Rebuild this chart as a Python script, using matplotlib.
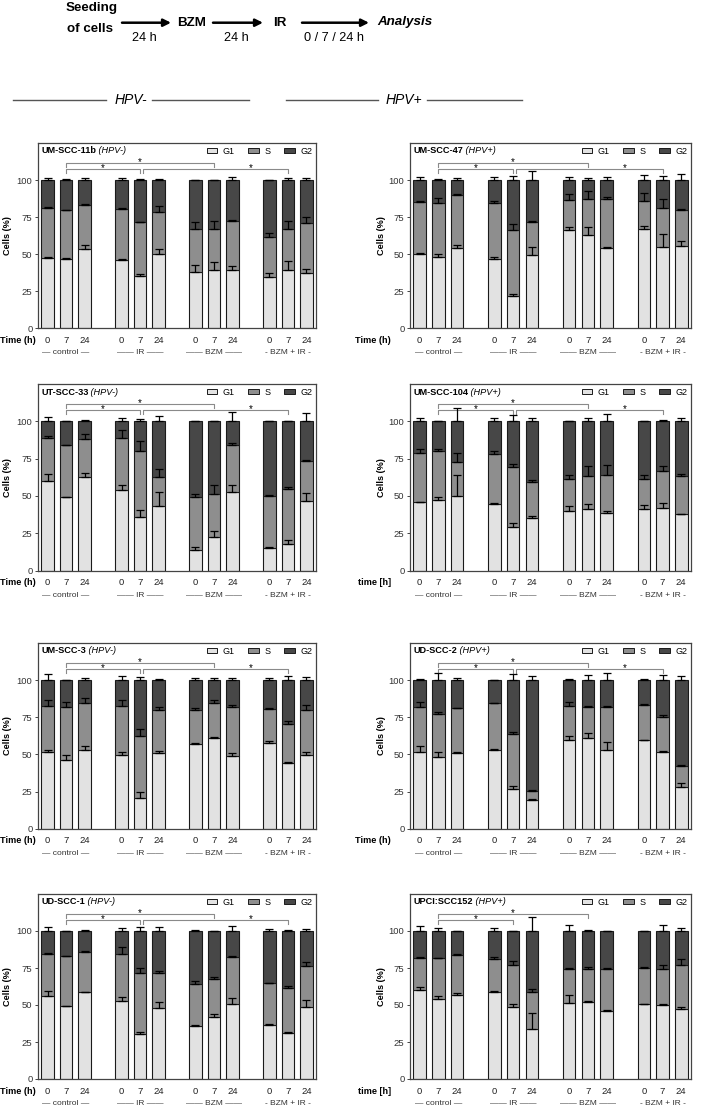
import matplotlib
matplotlib.use('Agg')
import matplotlib.pyplot as plt
import numpy as np
from matplotlib.transforms import blended_transform_factory
from matplotlib.patches import Patch

plt.rcParams['font.family'] = ['Liberation Sans', 'DejaVu Sans']

# ---------------- data ----------------
groups = ['— control —', '—— IR ——', '—— BZM ——', '- BZM + IR -']
times = ['0', '7', '24']
phases = ['G1', 'S', 'G2']

# UM-SCC-11b (HPV-)
um11b_G1 = [47.3, 46.8, 53.8, 46.4, 35.6, 50.0, 38.3, 39.2, 39.2, 34.7, 39.0, 37.4]
um11b_S = [34.0, 32.7, 29.1, 34.2, 35.8, 28.4, 28.8, 27.5, 33.3, 27.0, 28.3, 33.3]
um11b_G1_err = [1.1, 0.5, 2.3, 0.5, 0.7, 3.4, 4.7, 5.2, 2.5, 2.3, 6.1, 2.9]
um11b_S_err = [0.7, 0.5, 0.7, 0.7, 0.5, 3.8, 4.5, 5.4, 0.5, 2.9, 5.2, 4.1]
um11b_G2_err = [1.1, 0.7, 1.6, 1.1, 0.5, 0.5, 0.3, 0.3, 2.3, 0.3, 1.1, 1.1]

# UM-SCC-47 (HPV+)
um47_G1 = [49.8, 48.0, 54.3, 46.8, 21.5, 49.5, 66.0, 63.0, 54.3, 67.0, 55.0, 55.5]
um47_S = [35.3, 36.2, 35.3, 37.7, 45.0, 22.0, 20.3, 24.0, 33.1, 18.8, 25.9, 24.3]
um47_G1_err = [0.9, 2.3, 1.6, 1.4, 1.4, 5.4, 2.5, 5.0, 0.3, 2.0, 8.7, 3.6]
um47_S_err = [1.1, 3.8, 0.7, 1.4, 3.8, 0.7, 4.5, 5.6, 1.1, 5.6, 6.5, 1.0]
um47_G2_err = [2.0, 0.9, 1.4, 1.8, 2.5, 6.1, 2.2, 1.4, 1.8, 3.2, 3.0, 4.0]

# UT-SCC-33 (HPV-)
ut33_G1 = [59.8, 49.1, 62.7, 53.8, 35.7, 43.1, 13.8, 22.3, 52.5, 15.4, 18.1, 46.4]
ut33_S = [29.3, 34.8, 25.2, 34.8, 44.7, 19.4, 35.8, 29.3, 31.9, 34.4, 36.4, 26.8]
ut33_G1_err = [4.7, 0.2, 2.7, 3.3, 4.7, 9.8, 2.2, 4.0, 5.1, 0.7, 2.7, 5.4]
ut33_S_err = [1.3, 0.5, 3.8, 5.8, 6.7, 5.6, 2.0, 5.6, 1.3, 0.7, 1.6, 0.7]
ut33_G2_err = [2.7, 0.4, 0.7, 2.0, 1.6, 3.8, 0.2, 0.3, 6.3, 0.2, 0.4, 5.8]

# UM-SCC-104 (HPV+)
um104_G1 = [45.8, 47.1, 49.8, 44.6, 29.0, 35.5, 40.2, 41.3, 38.6, 41.3, 42.2, 37.9]
um104_S = [33.2, 33.0, 23.2, 33.5, 40.6, 24.1, 21.4, 22.3, 25.7, 19.9, 24.3, 25.7]
um104_G1_err = [0.4, 2.0, 14.3, 0.9, 2.7, 1.3, 2.9, 3.1, 1.6, 2.7, 2.9, 0.3]
um104_S_err = [2.2, 1.3, 5.6, 1.8, 2.0, 1.1, 2.5, 6.3, 6.7, 2.9, 3.6, 1.3]
um104_G2_err = [2.5, 0.4, 8.9, 2.5, 4.5, 2.5, 0.2, 2.5, 4.9, 0.2, 0.7, 2.0]

# UM-SCC-3 (HPV-)
um3_G1 = [51.7, 46.1, 53.3, 49.7, 20.7, 51.2, 57.3, 61.1, 49.2, 58.0, 44.3, 49.9]
um3_S = [31.2, 35.5, 31.0, 33.2, 42.0, 28.6, 22.5, 23.2, 32.4, 22.9, 26.3, 29.9]
um3_G1_err = [1.3, 3.6, 2.7, 1.6, 4.0, 0.9, 0.4, 0.4, 1.8, 1.3, 0.7, 2.0]
um3_S_err = [4.0, 4.0, 3.6, 4.0, 4.5, 2.0, 1.3, 2.0, 1.6, 0.4, 2.2, 3.8]
um3_G2_err = [3.8, 0.2, 1.3, 2.9, 1.8, 0.7, 1.6, 1.6, 1.6, 1.6, 2.9, 1.8]

# UD-SCC-2 (HPV+)
ud2_G1 = [51.9, 48.1, 50.8, 53.2, 26.8, 19.0, 59.5, 61.3, 53.0, 59.5, 51.5, 28.4]
ud2_S = [30.2, 29.1, 30.2, 31.1, 36.7, 6.7, 23.3, 20.8, 28.9, 23.7, 23.4, 13.9]
ud2_G1_err = [3.8, 3.8, 1.1, 0.2, 2.0, 1.3, 3.1, 2.9, 5.1, 0.3, 1.1, 2.2]
ud2_S_err = [2.9, 1.6, 0.3, 0.2, 1.3, 0.3, 2.7, 0.4, 0.4, 0.7, 1.8, 0.3]
ud2_G2_err = [0.9, 5.1, 1.6, 0.3, 3.8, 2.5, 0.9, 3.4, 4.5, 1.1, 3.4, 2.7]

# UD-SCC-1 (HPV-)
ud1_G1 = [56.1, 49.3, 58.8, 52.7, 30.4, 48.0, 36.0, 42.1, 50.7, 36.7, 31.3, 48.9]
ud1_S = [28.4, 33.6, 27.2, 31.8, 41.2, 23.8, 28.4, 25.5, 31.5, 28.2, 30.4, 27.2]
ud1_G1_err = [3.6, 0.3, 0.3, 2.7, 1.1, 3.8, 0.7, 1.6, 3.8, 0.7, 0.3, 4.3]
ud1_S_err = [0.7, 0.4, 0.3, 5.0, 3.6, 1.1, 1.6, 1.3, 0.7, 0.3, 0.9, 2.9]
ud1_G2_err = [2.7, 0.2, 0.9, 2.0, 2.7, 2.9, 0.7, 0.2, 3.4, 1.4, 0.7, 1.4]

# UPCI:SCC152 (HPV+)
upci_G1 = [60.0, 54.2, 56.9, 58.9, 48.5, 33.7, 51.5, 52.1, 46.1, 50.6, 49.9, 47.0]
upci_S = [21.6, 27.4, 27.1, 22.0, 28.4, 25.0, 23.1, 22.5, 28.5, 24.7, 24.7, 30.3]
upci_G1_err = [2.5, 2.2, 0.9, 0.4, 2.5, 10.8, 5.2, 0.7, 0.4, 0.3, 1.1, 1.6]
upci_S_err = [0.9, 0.3, 0.4, 1.3, 2.7, 2.0, 0.4, 1.1, 0.3, 0.3, 2.2, 3.6]
upci_G2_err = [3.4, 2.0, 0.3, 2.0, 0.2, 9.4, 4.0, 0.4, 0.2, 0.2, 3.8, 2.0]

panels = [
    dict(name='UM-SCC-11b', hpv='(HPV-)', G1=um11b_G1, S=um11b_S, e1=um11b_G1_err, e2=um11b_S_err, e3=um11b_G2_err, tlabel='Time (h)', nbr=3),
    dict(name='UM-SCC-47', hpv='(HPV+)', G1=um47_G1, S=um47_S, e1=um47_G1_err, e2=um47_S_err, e3=um47_G2_err, tlabel='Time (h)', nbr=3),
    dict(name='UT-SCC-33', hpv='(HPV-)', G1=ut33_G1, S=ut33_S, e1=ut33_G1_err, e2=ut33_S_err, e3=ut33_G2_err, tlabel='Time (h)', nbr=3),
    dict(name='UM-SCC-104', hpv='(HPV+)', G1=um104_G1, S=um104_S, e1=um104_G1_err, e2=um104_S_err, e3=um104_G2_err, tlabel='time [h]', nbr=3),
    dict(name='UM-SCC-3', hpv='(HPV-)', G1=um3_G1, S=um3_S, e1=um3_G1_err, e2=um3_S_err, e3=um3_G2_err, tlabel='Time (h)', nbr=3),
    dict(name='UD-SCC-2', hpv='(HPV+)', G1=ud2_G1, S=ud2_S, e1=ud2_G1_err, e2=ud2_S_err, e3=ud2_G2_err, tlabel='Time (h)', nbr=3),
    dict(name='UD-SCC-1', hpv='(HPV-)', G1=ud1_G1, S=ud1_S, e1=ud1_G1_err, e2=ud1_S_err, e3=ud1_G2_err, tlabel='Time (h)', nbr=3),
    dict(name='UPCI:SCC152', hpv='(HPV+)', G1=upci_G1, S=upci_S, e1=upci_G1_err, e2=upci_S_err, e3=upci_G2_err, tlabel='time [h]', nbr=2),
]

# ---------------- style ----------------
W, H = 705, 1109
fig = plt.figure(figsize=(W / 100, H / 100), dpi=100)

C_G1, C_S, C_G2 = '#e2e2e2', '#8e8e8e', '#474747'
EDGE = '#1a1a1a'
BR = '#8a8a8a'

# overlay for header
ov = fig.add_axes([0, 0, 1, 1])
ov.set_xlim(0, W)
ov.set_ylim(H, 0)
ov.axis('off')

hb = dict(fontsize=9.6, fontweight='bold', ha='center', va='center')
ov.text(91.5, 8, 'Seeding', **hb)
ov.text(90, 29, 'of cells', **hb)
ov.text(192, 22.5, 'BZM', **hb)
ov.text(280, 22.5, 'IR', **hb)
ov.text(377, 22, 'Analysis', fontsize=9.6, fontweight='bold', style='italic', ha='left', va='center')
for (x0, x1, lab, lx) in [(122, 171, '24 h', 144), (213, 263, '24 h', 236), (302, 369, '0 / 7 / 24 h', 334)]:
    ov.annotate('', xy=(x1, 22.7), xytext=(x0, 22.7),
                arrowprops=dict(arrowstyle='-|>', lw=1.8, mutation_scale=11, color='black', shrinkA=0, shrinkB=0))
    ov.text(lx, 38, lab, fontsize=9.2, ha='center', va='center')

for (l0, l1, txt, tx, r0, r1) in [(13, 106, 'HPV-', 131, 152, 249), (286, 378, 'HPV+', 403.5, 427, 522)]:
    ov.plot([l0, l1], [99.5, 99.5], color='#555555', lw=1.0)
    ov.plot([r0, r1], [99.5, 99.5], color='#555555', lw=1.0)
    ov.text(tx, 99.5, txt, fontsize=10, style='italic', ha='center', va='center')

pos = np.array([0, 1, 2, 4, 5, 6, 8, 9, 10, 12, 13, 14])
cols = [(38, 316), (410, 691)]
rows = [(143, 328.3), (384, 570.6), (643, 828.7), (894, 1079)]

for i, p in enumerate(panels):
    r, c = divmod(i, 2)
    x0, x1 = cols[c]
    top, bot = rows[r]
    ax = fig.add_axes([x0 / W, 1 - bot / H, (x1 - x0) / W, (bot - top) / H])
    ax.set_xlim(-0.52, 14.52)
    ax.set_ylim(0, 125)
    g1 = np.array(p['G1'])
    s = np.array(p['S'])
    g2 = 100 - g1 - s
    bw = 0.67
    ax.bar(pos, g1, bw, color=C_G1, edgecolor=EDGE, lw=0.8, zorder=2)
    ax.bar(pos, s, bw, bottom=g1, color=C_S, edgecolor=EDGE, lw=0.8, zorder=2)
    ax.bar(pos, g2, bw, bottom=g1 + s, color=C_G2, edgecolor=EDGE, lw=0.8, zorder=2)
    z = np.zeros(len(pos))
    for top_v, err in [(g1, p['e1']), (g1 + s, p['e2']), (g1 + s + g2, p['e3'])]:
        ax.errorbar(pos, top_v, yerr=[z, err], fmt='none', ecolor='black',
                    elinewidth=0.9, capsize=3, capthick=0.9, zorder=3)

    for sp in ax.spines.values():
        sp.set_color('#444444')
        sp.set_linewidth(0.9)
    ax.set_yticks([0, 25, 50, 75, 100])
    ax.tick_params(axis='y', labelsize=6.8, length=2.5, width=0.7, pad=1.5, labelcolor='#333333', color='#444444')
    ax.set_xticks([])
    ax.set_ylabel('Cells (%)', fontsize=6.6, fontweight='bold')
    ax.yaxis.set_label_coords(-0.095 if c == 0 else -0.085, 0.5)

    # title
    t1 = ax.text(0.011, 0.957, p['name'], transform=ax.transAxes, fontsize=6.6,
                 fontweight='bold', ha='left', va='center')
    ax.annotate(' ' + p['hpv'], xy=(1, 0), xycoords=t1, fontsize=6.6, style='italic',
                ha='left', va='bottom')

    # legend
    handles = [Patch(facecolor=C_G1, edgecolor=EDGE, lw=0.7),
               Patch(facecolor=C_S, edgecolor=EDGE, lw=0.7),
               Patch(facecolor=C_G2, edgecolor=EDGE, lw=0.7)]
    ax.legend(handles, phases, ncol=3, loc='upper right', bbox_to_anchor=(1.0, 1.0),
              frameon=False, fontsize=6.5, handlelength=1.15, handleheight=0.6,
              handletextpad=0.65, columnspacing=1.5, borderaxespad=0.15, borderpad=0.25)

    # significance brackets
    brs = [(1, 5, 107.4, 3), (1, 9, 111.8, 5), (5.15, 13, 107.4, 11)][:p['nbr']]
    for (a, b, y, sx) in brs:
        ax.plot([a, a, b, b], [y - 2.8, y, y, y - 2.8], color=BR, lw=0.8, zorder=1)
        ax.text(sx, y - 1.4, '*', ha='center', va='baseline', fontsize=7)

    # x labels
    tr = blended_transform_factory(ax.transData, ax.transAxes)
    for gi in range(4):
        for ti in range(3):
            ax.text(pos[gi * 3 + ti], -0.065, times[ti], transform=tr, ha='center', va='center', fontsize=6.8, color='#222222')
        ax.text(pos[gi * 3 + 1], -0.133, groups[gi], transform=tr, ha='center', va='center', fontsize=6.0, color='#333333')
    tx = -0.008 if c == 0 else -0.068
    ax.text(tx, -0.065, p['tlabel'], transform=ax.transAxes, ha='right', va='center', fontsize=6.6, fontweight='bold')

fig.savefig('out.png', dpi=100)
